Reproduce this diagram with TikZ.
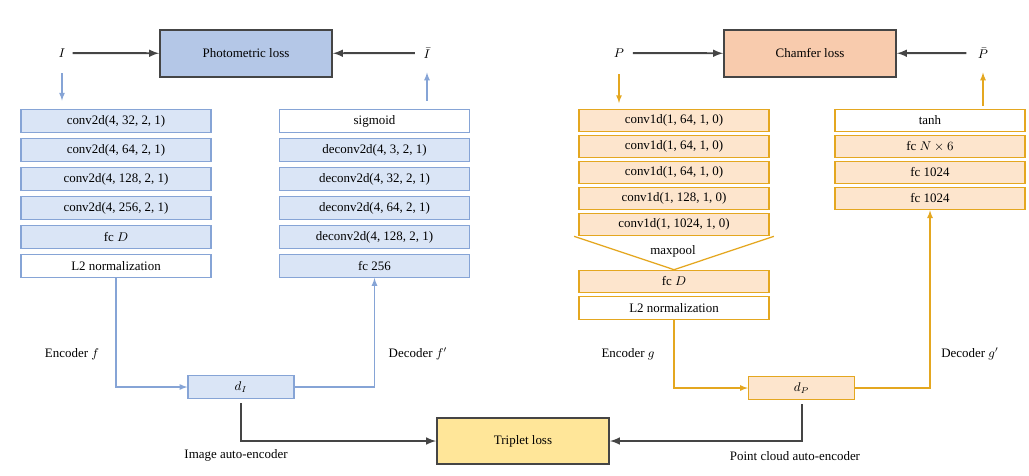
\documentclass[tikz,border=0pt]{standalone}
\usepackage{amsmath}
\usepackage{amssymb}
\usepackage{fontspec}
\setmainfont{Liberation Serif}
\usepackage{tikz}
\usetikzlibrary{calc}
\usepackage{xcolor}
\definecolor{bfill}{HTML}{DAE5F6}
\definecolor{bline}{HTML}{86A4D6}
\definecolor{bdark}{HTML}{B4C7E7}
\definecolor{ofill}{HTML}{FDE5CD}
\definecolor{oline}{HTML}{E4A720}
\definecolor{odark}{HTML}{F8CBAD}
\definecolor{tfill}{HTML}{FFE699}
\definecolor{gline}{HTML}{454545}

\begin{document}
\begin{tikzpicture}[x=0.025cm,y=-0.025cm,
font=\fontsize{9.2}{11}\selectfont,
every node/.style={inner sep=0pt},
layer/.style={minimum width=4.75cm,minimum height=0.57cm,line width=0.9pt},
blay/.style={layer,draw=bline,fill=bfill},
blayw/.style={layer,draw=bline,fill=white},
olay/.style={layer,draw=oline,fill=ofill,minimum height=0.56cm},
olayw/.style={layer,draw=oline,fill=white,minimum height=0.56cm},
lossbox/.style={draw=gline,line width=1.3pt,minimum width=4.3cm,minimum height=1.17cm},
distbox/.style={minimum width=2.65cm,minimum height=0.58cm,line width=0.9pt},
barrow/.style={draw=bline,line width=0.9pt,-latex},
oarrow/.style={draw=oline,line width=0.9pt,-latex},
garrow/.style={draw=gline,line width=1.4pt,-latex}]
\useasboundingbox (0,0) rectangle (1029,475);

% image branch
\node (I) at (62,53) {$I$};
\node (Ibar) at (427,53) {$\bar{I}$};
\node (photo) [lossbox,fill=bdark] at (246,53.5) {Photometric loss};

\node (e1) [blay] at (116,121) {conv2d(4, 32, 2, 1)};
\node (e2) [blay] at (116,150) {conv2d(4, 64, 2, 1)};
\node (e3) [blay] at (116,179) {conv2d(4, 128, 2, 1)};
\node (e4) [blay] at (116,208) {conv2d(4, 256, 2, 1)};
\node (e5) [blay] at (116,237) {fc $D$};
\node (e6) [blayw] at (116,266) {L2 normalization};

\node (d1) [blayw] at (374.5,121) {sigmoid};
\node (d2) [blay] at (374.5,150) {deconv2d(4, 3, 2, 1)};
\node (d3) [blay] at (374.5,179) {deconv2d(4, 32, 2, 1)};
\node (d4) [blay] at (374.5,208) {deconv2d(4, 64, 2, 1)};
\node (d5) [blay] at (374.5,237) {deconv2d(4, 128, 2, 1)};
\node (d6) [blay] at (374.5,266) {fc 256};

\node (dI) [distbox,draw=bline,fill=bfill] at (241,387) {$d_I$};
\node (encf) at (72,354) {Encoder $f$};
\node (decf) at (418,354) {Decoder $f'$};
\node (imgae) at (236,455) {Image auto-encoder};

% point cloud branch
\node (P) at (619,53) {$P$};
\node (Pbar) at (983,53) {$\bar{P}$};
\node (chamf) [lossbox,fill=odark] at (810,53.5) {Chamfer loss};

\node (pe1) [olay] at (674,120.5) {conv1d(1, 64, 1, 0)};
\node (pe2) [olay] at (674,146.5) {conv1d(1, 64, 1, 0)};
\node (pe3) [olay] at (674,172.5) {conv1d(1, 64, 1, 0)};
\node (pe4) [olay] at (674,198.5) {conv1d(1, 128, 1, 0)};
\node (pe5) [olay] at (674,224.5) {conv1d(1, 1024, 1, 0)};
\node (pool) at (673,251) {maxpool};
\node (pe6) [olay] at (674,281.5) {fc $D$};
\node (pe7) [olayw] at (674,308) {L2 normalization};

\node (pd1) [olayw] at (930,120.5) {tanh};
\node (pd2) [olay] at (930,146.5) {fc $N\times6$};
\node (pd3) [olay] at (930,172.5) {fc 1024};
\node (pd4) [olay] at (930,198.5) {fc 1024};

\node (dP) [distbox,draw=oline,fill=ofill] at (801.5,388) {$d_P$};
\node (encg) at (628,354) {Encoder $g$};
\node (decg) at (970,354) {Decoder $g'$};
\node (pcae) at (795,456) {Point cloud auto-encoder};

\node (trip) [lossbox,fill=tfill,minimum height=1.15cm] at (523,441) {Triplet loss};

% connectors
\draw[garrow,shorten <=5pt] (I) -- (photo);
\draw[garrow,shorten <=6pt] (Ibar) -- (photo);
\draw[barrow,shorten <=11pt,shorten >=6pt] (I) -- (I |- e1.north);
\draw[barrow,shorten <=6pt,shorten >=10pt] (d1.north -| Ibar) -- (Ibar);
\draw[barrow] (e6.south) |- (dI.west);
\draw[barrow] (dI.east) -| (d6.south);
\draw[garrow,shorten <=3pt] (dI.south) |- (trip.west);

\draw[garrow,shorten <=6pt] (P) -- (chamf);
\draw[garrow,shorten <=8pt] (Pbar) -- (chamf);
\draw[oarrow,shorten <=12pt,shorten >=4pt] (P) -- (P |- pe1.north);
\draw[oarrow,shorten <=2pt,shorten >=10pt] (pd1.north -| Pbar) -- (Pbar);
\draw[oline,line width=0.9pt] ([xshift=-3pt]pe5.south west) -- (pe6.north) -- ([xshift=3pt]pe5.south east);
\draw[oarrow] (pe7.south) |- (dP.west);
\draw[oarrow] (dP.east) -| (pd4.south);
\draw[garrow,shorten <=3pt] (dP.south) |- (trip.east);
\end{tikzpicture}
\end{document}
